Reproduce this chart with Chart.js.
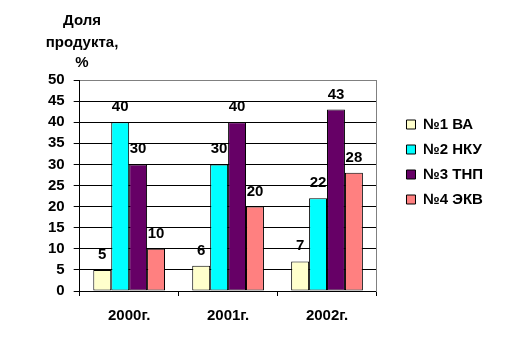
<!DOCTYPE html>
<html>
<head>
<meta charset="utf-8">
<script src="https://cdn.jsdelivr.net/npm/chart.js@4/dist/chart.umd.min.js"></script>
<style>
    html, body { margin: 0; padding: 0; background: #fff; }
    #wrap { width: 517px; height: 343px; position: relative; }
</style>
</head>
<body>
<div id="wrap"><canvas id="chart"></canvas></div>
<script>
// data
const categories = ['2000г.', '2001г.', '2002г.'];
const seriesNames = ['№1 ВА', '№2 НКУ', '№3 ТНП', '№4 ЭКВ'];
const seriesVA = [5, 6, 7];
const seriesNKU = [40, 30, 22];
const seriesTNP = [30, 40, 43];
const seriesEKV = [10, 20, 28];
const yTicks = [0, 5, 10, 15, 20, 25, 30, 35, 40, 45, 50];
const axisTitle = ['Доля', 'продукта,', '%'];

const colors = ['#FFFFCC', '#00FFFF', '#660066', '#FF8080'];
const FONT = 'Arial, "Liberation Sans", sans-serif';

// axis caption above the y axis
const captionPlugin = {
    id: 'caption',
    afterDraw(chart) {
        const ctx = chart.ctx;
        ctx.save();
        ctx.font = 'bold 15px ' + FONT;
        ctx.fillStyle = '#000';
        ctx.textAlign = 'center';
        ctx.textBaseline = 'alphabetic';
        const ys = [25, 47, 67];
        axisTitle.forEach((t, i) => ctx.fillText(t, 82, ys[i]));
        ctx.restore();
    }
};

// value labels above the bars
const valueLabels = {
    id: 'valueLabels',
    afterDatasetsDraw(chart) {
        const ctx = chart.ctx;
        ctx.save();
        ctx.font = 'bold 15px ' + FONT;
        ctx.fillStyle = '#000';
        ctx.textAlign = 'center';
        ctx.textBaseline = 'alphabetic';
        chart.data.datasets.forEach((ds, i) => {
            chart.getDatasetMeta(i).data.forEach((bar, j) => {
                ctx.fillText(ds.data[j], bar.x, bar.y - 11);
            });
        });
        ctx.restore();
    }
};

new Chart(document.getElementById('chart'), {
    type: 'bar',
    data: {
        labels: categories,
        datasets: [seriesVA, seriesNKU, seriesTNP, seriesEKV].map((d, i) => ({
            label: seriesNames[i],
            data: d,
            backgroundColor: colors[i],
            borderColor: '#000',
            borderWidth: 1,
            borderSkipped: false,
            barPercentage: 1,
            categoryPercentage: 0.725
        }))
    },
    options: {
        responsive: true,
        maintainAspectRatio: false,
        animation: false,
        layout: { padding: { top: 80, left: 39, right: 24, bottom: 7 } },
        plugins: {
            tooltip: { enabled: false },
            legend: {
                position: 'right',
                align: 'start',
                maxWidth: 200,
                title: { display: true, text: '', font: { size: 10 }, padding: { top: 15, bottom: 0 } },
                labels: {
                    color: '#000',
                    boxWidth: 9,
                    boxHeight: 9,
                    padding: 10,
                    font: { family: FONT, size: 15, weight: 'bold' }
                }
            }
        },
        scales: {
            x: {
                grid: { display: true, drawOnChartArea: false, drawTicks: true, tickLength: 5, color: '#000' },
                border: { display: true, color: '#000', width: 1 },
                ticks: { color: '#000', padding: 11, font: { family: FONT, size: 15, weight: 'bold' } }
            },
            y: {
                min: 0,
                max: 50,
                afterBuildTicks: axis => { axis.ticks = yTicks.map(v => ({ value: v })); },
                grid: {
                    color: c => (c.tick && c.tick.value === 50 ? '#808080' : '#000'),
                    tickColor: '#000',
                    tickLength: 6
                },
                border: { display: true, color: '#000', width: 1 },
                ticks: { color: '#000', padding: 9, font: { family: FONT, size: 15, weight: 'bold' } }
            },
            yRight: {
                position: 'right',
                display: true,
                min: 0,
                max: 50,
                grid: { display: false },
                ticks: { display: false },
                border: { display: true, color: '#808080', width: 1 },
                afterFit: axis => { axis.width = 20; }
            }
        }
    },
    plugins: [captionPlugin, valueLabels]
});
</script>
</body>
</html>
